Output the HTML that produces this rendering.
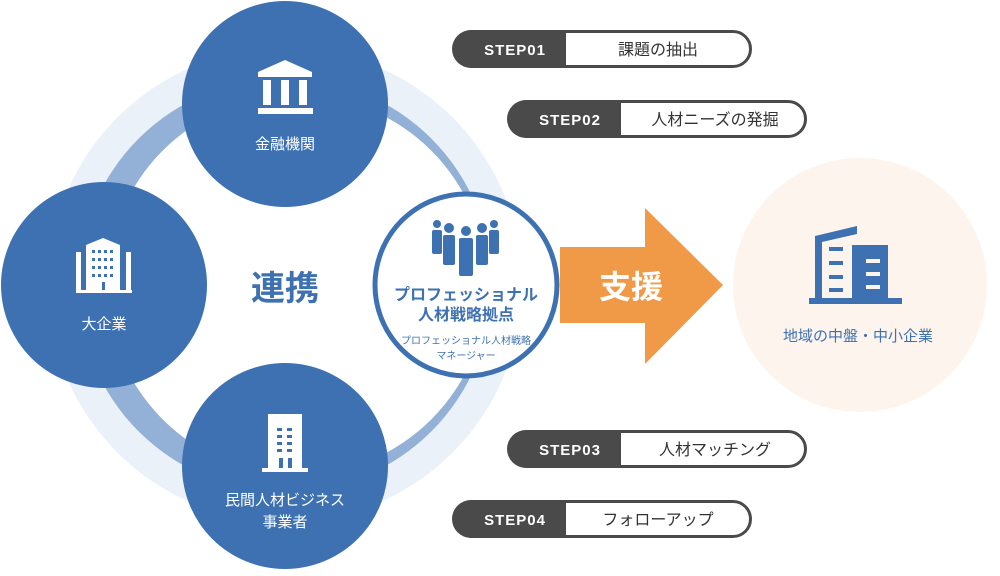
<!DOCTYPE html>
<html><head><meta charset="utf-8"><style>
body{margin:0;width:1000px;height:571px;overflow:hidden;background:#fff;font-family:"Liberation Sans","Noto Sans CJK JP",sans-serif;}
</style></head><body>
<svg width="1000" height="571" viewBox="0 0 1000 571" xmlns="http://www.w3.org/2000/svg" font-family="Liberation Sans, Noto Sans CJK JP, sans-serif">
<circle cx="285" cy="285" r="237" fill="#eaf1f9"/>
<circle cx="285" cy="285" r="207" fill="#93b0d6"/>
<circle cx="297" cy="285" r="190" fill="#fff"/>
<circle cx="860" cy="285" r="127" fill="#fdf4ed"/>
<polygon points="560,247 645,247 645,208 723,285 645,364 645,323 560,323" fill="#f09a48"/>
<text x="631" y="298" font-size="32" font-weight="bold" fill="#fff" text-anchor="middle">支援</text>
<circle cx="285" cy="104" r="103" fill="#3e71b2"/>
<circle cx="104" cy="285" r="103" fill="#3e71b2"/>
<circle cx="285" cy="466" r="103" fill="#3e71b2"/>
<circle cx="466" cy="285" r="91" fill="#fff" stroke="#3e71b2" stroke-width="5"/>
<g fill="#fff">
<polygon points="258,72 285,60 312,72 312,77 258,77"/>
<rect x="263" y="80" width="8" height="25"/><rect x="281" y="80" width="8" height="25"/><rect x="299" y="80" width="8" height="25"/>
<rect x="258" y="108" width="55" height="6"/>
</g>
<text x="285" y="149" font-size="15" fill="#fff" text-anchor="middle">金融機関</text>
<g fill="#fff">
<rect x="76" y="252" width="5" height="40"/><rect x="126" y="252" width="5" height="40"/>
<polygon points="86,245 103,238 120,245 120,292 86,292"/>
<rect x="76" y="290" width="56" height="3"/>
</g>
<g fill="#3e71b2">
<rect x="92" y="250" width="3" height="3"/><rect x="98" y="250" width="3" height="3"/><rect x="104" y="250" width="3" height="3"/><rect x="110" y="250" width="3" height="3"/>
<rect x="92" y="258" width="3" height="3"/><rect x="98" y="258" width="3" height="3"/><rect x="104" y="258" width="3" height="3"/><rect x="110" y="258" width="3" height="3"/>
<rect x="92" y="266" width="3" height="3"/><rect x="98" y="266" width="3" height="3"/><rect x="104" y="266" width="3" height="3"/><rect x="110" y="266" width="3" height="3"/>
<rect x="92" y="274" width="3" height="3"/><rect x="98" y="274" width="3" height="3"/><rect x="104" y="274" width="3" height="3"/><rect x="110" y="274" width="3" height="3"/>
<rect x="102" y="282" width="3" height="8"/>
</g>
<text x="104" y="329" font-size="15" fill="#fff" text-anchor="middle">大企業</text>
<g fill="#fff">
<rect x="268" y="414" width="34" height="55"/><rect x="262" y="468" width="46" height="4"/>
</g>
<g fill="#3e71b2">
<rect x="277" y="428" width="5" height="3"/><rect x="287" y="428" width="5" height="3"/>
<rect x="277" y="435" width="5" height="3"/><rect x="287" y="435" width="5" height="3"/>
<rect x="277" y="442" width="5" height="3"/><rect x="287" y="442" width="5" height="3"/>
<rect x="277" y="449" width="5" height="3"/><rect x="287" y="449" width="5" height="3"/>
<rect x="279" y="458" width="4" height="10"/><rect x="288" y="458" width="4" height="10"/>
</g>
<text x="285" y="505" font-size="15" fill="#fff" text-anchor="middle">民間人材ビジネス</text>
<text x="285" y="527" font-size="15" fill="#fff" text-anchor="middle">事業者</text>
<text x="285" y="300" font-size="34" font-weight="bold" fill="#3e71b2" text-anchor="middle">連携</text>
<g fill="#3e71b2">
<circle cx="437" cy="224" r="4"/><rect x="432" y="230" width="10" height="24" rx="2"/>
<circle cx="449" cy="228" r="5"/><rect x="443" y="235" width="12" height="30" rx="2"/>
<circle cx="466" cy="231" r="5"/><rect x="459" y="238" width="14" height="38" rx="2"/>
<circle cx="482" cy="228" r="5"/><rect x="476" y="235" width="12" height="30" rx="2"/>
<circle cx="494" cy="224" r="4"/><rect x="489" y="230" width="10" height="24" rx="2"/>
</g>
<text x="466" y="300" font-size="16" font-weight="bold" fill="#3e71b2" text-anchor="middle">プロフェッショナル</text>
<text x="466" y="320" font-size="16" font-weight="bold" fill="#3e71b2" text-anchor="middle">人材戦略拠点</text>
<text x="466" y="344" font-size="10" fill="#3e71b2" text-anchor="middle">プロフェッショナル人材戦略</text>
<text x="466" y="359" font-size="10" fill="#3e71b2" text-anchor="middle">マネージャー</text>
<g fill="#3e71b2">
<polygon points="815,236 857,226 857,234 822,242 822,298 815,298"/>
<rect x="852" y="245" width="36" height="53"/>
<rect x="809" y="298" width="93" height="6"/>
<rect x="829" y="247" width="14" height="4"/><rect x="829" y="261" width="14" height="4"/><rect x="829" y="275" width="14" height="4"/><rect x="829" y="288" width="14" height="4"/>
</g>
<g fill="#fdf4ed"><rect x="866" y="259" width="14" height="4"/><rect x="866" y="272" width="14" height="4"/><rect x="866" y="285" width="14" height="4"/></g>
<text x="858" y="341" font-size="15" fill="#3e71b2" text-anchor="middle">地域の中盤・中小企業</text>
<g font-size="16">
<g transform="translate(453,30)"><rect x="1.5" y="1.5" width="296" height="35" rx="17.5" fill="#fff" stroke="#4a4a4a" stroke-width="3"/><path d="M18,0 H113 V38 H18 A19,19 0 0 1 18,0Z" fill="#4a4a4a"/><text x="62" y="25" fill="#fff" font-weight="bold" text-anchor="middle" font-size="15" letter-spacing="1">STEP01</text><text x="205" y="25" fill="#333" text-anchor="middle">課題の抽出</text></g>
<g transform="translate(508,100)"><rect x="1.5" y="1.5" width="296" height="35" rx="17.5" fill="#fff" stroke="#4a4a4a" stroke-width="3"/><path d="M18,0 H113 V38 H18 A19,19 0 0 1 18,0Z" fill="#4a4a4a"/><text x="62" y="25" fill="#fff" font-weight="bold" text-anchor="middle" font-size="15" letter-spacing="1">STEP02</text><text x="207" y="25" fill="#333" text-anchor="middle">人材ニーズの発掘</text></g>
<g transform="translate(508,430)"><rect x="1.5" y="1.5" width="296" height="35" rx="17.5" fill="#fff" stroke="#4a4a4a" stroke-width="3"/><path d="M18,0 H113 V38 H18 A19,19 0 0 1 18,0Z" fill="#4a4a4a"/><text x="62" y="25" fill="#fff" font-weight="bold" text-anchor="middle" font-size="15" letter-spacing="1">STEP03</text><text x="207" y="25" fill="#333" text-anchor="middle">人材マッチング</text></g>
<g transform="translate(453,500)"><rect x="1.5" y="1.5" width="296" height="35" rx="17.5" fill="#fff" stroke="#4a4a4a" stroke-width="3"/><path d="M18,0 H113 V38 H18 A19,19 0 0 1 18,0Z" fill="#4a4a4a"/><text x="62" y="25" fill="#fff" font-weight="bold" text-anchor="middle" font-size="15" letter-spacing="1">STEP04</text><text x="205" y="25" fill="#333" text-anchor="middle">フォローアップ</text></g>
</g>
</svg>
</body></html>
